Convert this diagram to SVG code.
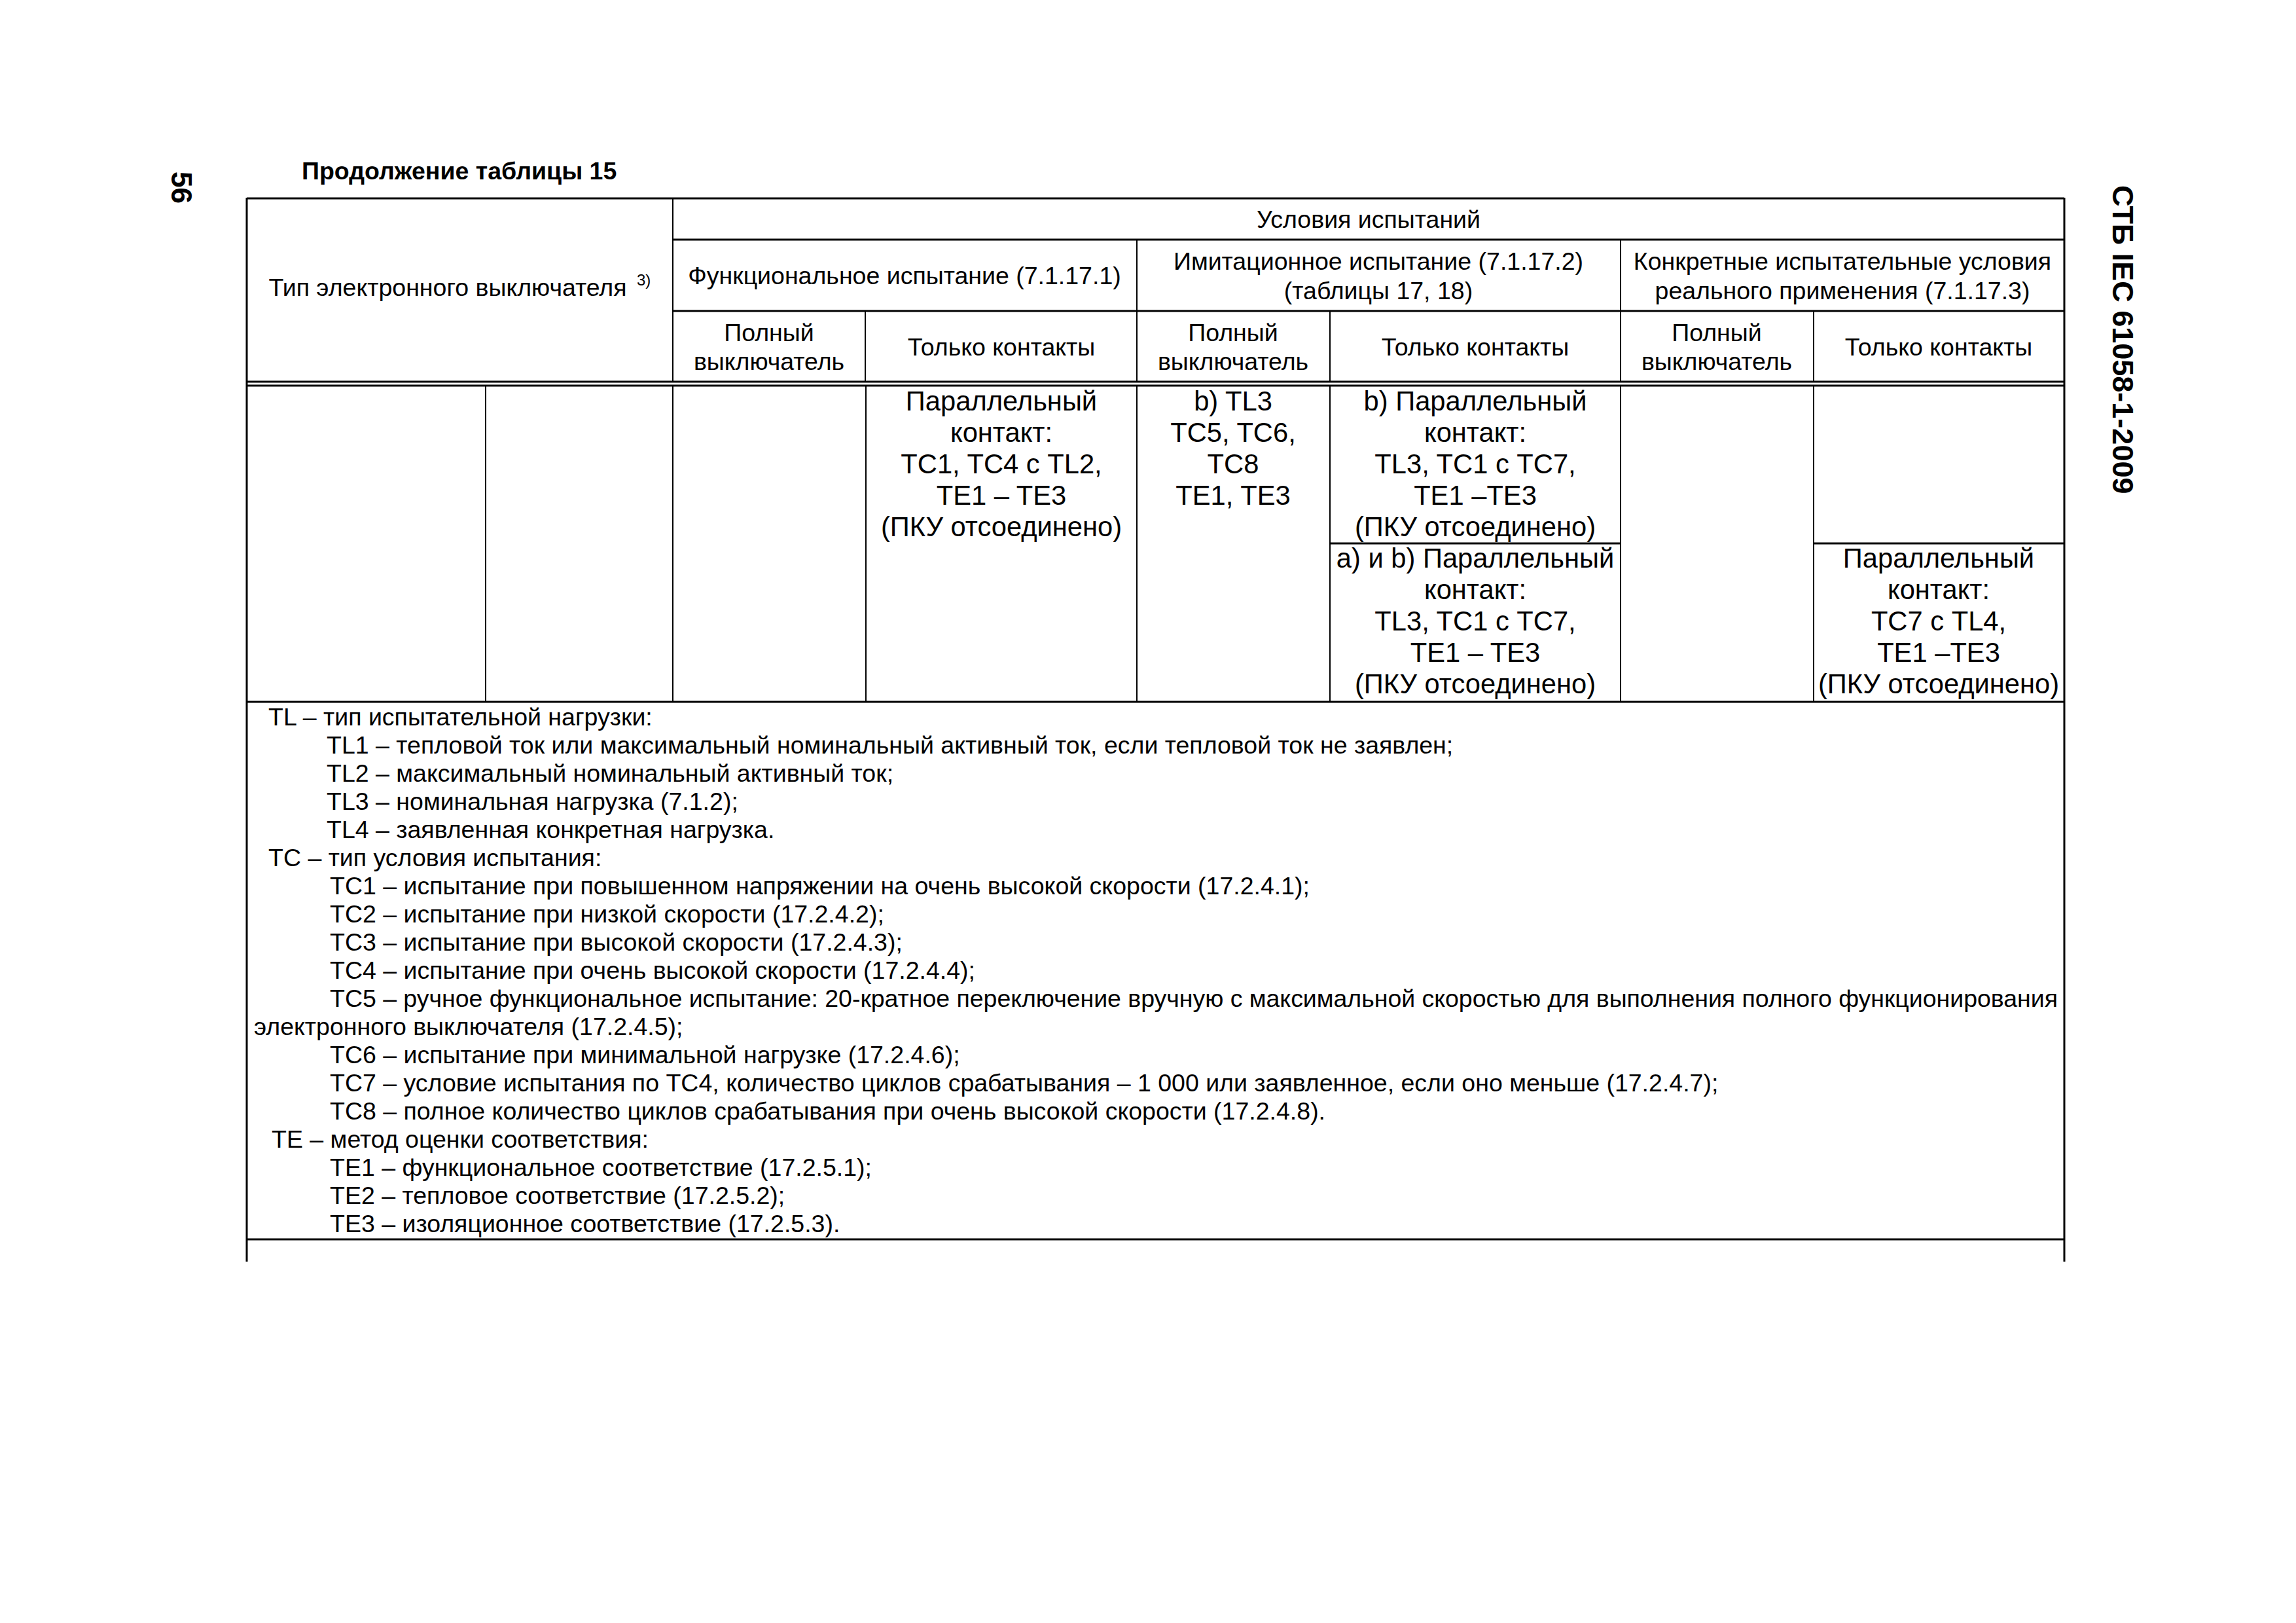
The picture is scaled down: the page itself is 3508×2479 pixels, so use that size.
<svg xmlns="http://www.w3.org/2000/svg" width="3508" height="2479" viewBox="0 0 3508 2479">
<style>
text{font-family:"Liberation Sans",Arial,sans-serif;fill:#000}
.b{font-weight:bold}
.h{font-size:37.5px;text-anchor:middle}
.c{font-size:41.7px;text-anchor:middle}
.n{font-size:37.5px}
.t{font-size:37.5px}
line{stroke:#000}
.thick{stroke-width:3}
.thin{stroke-width:2}
</style>
<rect width="3508" height="2479" fill="#fff"/>
<g id="page-marks">
<text class="b" font-size="44" transform="translate(262,262) rotate(90)">56</text>
<text class="b" font-size="45" transform="translate(3228,283) rotate(90)">СТБ IEC 61058-1-2009</text>
<text class="b t" x="461" y="274">Продолжение таблицы 15</text>
</g>
<g id="grid">
<line class="thick" x1="377" y1="303" x2="3154" y2="303"/>
<line class="thick" x1="377" y1="302" x2="377" y2="1927"/>
<line class="thick" x1="3154" y1="302" x2="3154" y2="1927"/>
<line class="thick" x1="1028" y1="366" x2="3154" y2="366"/>
<line class="thick" x1="1028" y1="475" x2="3154" y2="475"/>
<line class="thick" x1="377" y1="583" x2="3154" y2="583"/>
<line class="thick" x1="377" y1="589" x2="3154" y2="589"/>
<line class="thick" x1="377" y1="1072" x2="3154" y2="1072"/>
<line class="thick" x1="377" y1="1893" x2="3154" y2="1893"/>
<line class="thick" x1="2032" y1="830" x2="2476" y2="830"/>
<line class="thick" x1="2771" y1="830" x2="3154" y2="830"/>
<line class="thin" x1="1028" y1="303" x2="1028" y2="583"/>
<line class="thin" x1="1322" y1="475" x2="1322" y2="583"/>
<line class="thin" x1="1737" y1="366" x2="1737" y2="583"/>
<line class="thin" x1="2032" y1="475" x2="2032" y2="583"/>
<line class="thin" x1="2476" y1="366" x2="2476" y2="583"/>
<line class="thin" x1="2771" y1="475" x2="2771" y2="583"/>
<line class="thin" x1="742" y1="589" x2="742" y2="1072"/>
<line class="thin" x1="1028" y1="589" x2="1028" y2="1072"/>
<line class="thin" x1="1323" y1="589" x2="1323" y2="1072"/>
<line class="thin" x1="1737" y1="589" x2="1737" y2="1072"/>
<line class="thin" x1="2032" y1="589" x2="2032" y2="1072"/>
<line class="thin" x1="2476" y1="589" x2="2476" y2="1072"/>
<line class="thin" x1="2771" y1="589" x2="2771" y2="1072"/>
</g>
<g id="header">
<text class="h" x="684" y="452">Тип электронного выключателя</text>
<text font-size="24" x="973" y="436">3)</text>
<text class="h" x="2091" y="348">Условия испытаний</text>
<text class="h" x="1382" y="434">Функциональное испытание (7.1.17.1)</text>
<text class="h" x="2106" y="412">Имитационное испытание (7.1.17.2)</text>
<text class="h" x="2106" y="457">(таблицы 17, 18)</text>
<text class="h" x="2815" y="412">Конкретные испытательные условия</text>
<text class="h" x="2815" y="457">реального применения (7.1.17.3)</text>
<text class="h" x="1175" y="521">Полный</text>
<text class="h" x="1175" y="565">выключатель</text>
<text class="h" x="1530" y="543">Только контакты</text>
<text class="h" x="1884" y="521">Полный</text>
<text class="h" x="1884" y="565">выключатель</text>
<text class="h" x="2254" y="543">Только контакты</text>
<text class="h" x="2623" y="521">Полный</text>
<text class="h" x="2623" y="565">выключатель</text>
<text class="h" x="2962" y="543">Только контакты</text>
</g>
<g id="body">
<text class="c" x="1530" y="627">Параллельный</text>
<text class="c" x="1530" y="675">контакт:</text>
<text class="c" x="1530" y="723">TC1, TC4 с TL2,</text>
<text class="c" x="1530" y="771">TE1 – TE3</text>
<text class="c" x="1530" y="819">(ПКУ отсоединено)</text>
<text class="c" x="1884" y="627">b) TL3</text>
<text class="c" x="1884" y="675">TC5, TC6,</text>
<text class="c" x="1884" y="723">TC8</text>
<text class="c" x="1884" y="771">TE1, TE3</text>
<text class="c" x="2254" y="627">b) Параллельный</text>
<text class="c" x="2254" y="675">контакт:</text>
<text class="c" x="2254" y="723">TL3, TC1 с TC7,</text>
<text class="c" x="2254" y="771">TE1 –TE3</text>
<text class="c" x="2254" y="819">(ПКУ отсоединено)</text>
<text class="c" x="2254" y="867">а) и b) Параллельный</text>
<text class="c" x="2254" y="915">контакт:</text>
<text class="c" x="2254" y="963">TL3, TC1 с TC7,</text>
<text class="c" x="2254" y="1011">TE1 – TE3</text>
<text class="c" x="2254" y="1059">(ПКУ отсоединено)</text>
<text class="c" x="2962" y="867">Параллельный</text>
<text class="c" x="2962" y="915">контакт:</text>
<text class="c" x="2962" y="963">TC7 с TL4,</text>
<text class="c" x="2962" y="1011">TE1 –TE3</text>
<text class="c" x="2962" y="1059">(ПКУ отсоединено)</text>
</g>
<g id="notes">
<text class="n" x="410" y="1108">TL – тип испытательной нагрузки:</text>
<text class="n" x="499" y="1151">TL1 – тепловой ток или максимальный номинальный активный ток, если тепловой ток не заявлен;</text>
<text class="n" x="499" y="1194">TL2 – максимальный номинальный активный ток;</text>
<text class="n" x="499" y="1237">TL3 – номинальная нагрузка (7.1.2);</text>
<text class="n" x="499" y="1280">TL4 – заявленная конкретная нагрузка.</text>
<text class="n" x="410" y="1323">TC – тип условия испытания:</text>
<text class="n" x="504" y="1366">TC1 – испытание при повышенном напряжении на очень высокой скорости (17.2.4.1);</text>
<text class="n" x="504" y="1409">TC2 – испытание при низкой скорости (17.2.4.2);</text>
<text class="n" x="504" y="1452">TC3 – испытание при высокой скорости (17.2.4.3);</text>
<text class="n" x="504" y="1495">TC4 – испытание при очень высокой скорости (17.2.4.4);</text>
<text class="n" x="504" y="1538" textLength="2640" lengthAdjust="spacing">TC5 – ручное функциональное испытание: 20-кратное переключение вручную с максимальной скоростью для выполнения полного функционирования</text>
<text class="n" x="388" y="1581">электронного выключателя (17.2.4.5);</text>
<text class="n" x="504" y="1624">TC6 – испытание при минимальной нагрузке (17.2.4.6);</text>
<text class="n" x="504" y="1667">TC7 – условие испытания по TC4, количество циклов срабатывания – 1 000 или заявленное, если оно меньше (17.2.4.7);</text>
<text class="n" x="504" y="1710">TC8 – полное количество циклов срабатывания при очень высокой скорости (17.2.4.8).</text>
<text class="n" x="415" y="1753">TE – метод оценки соответствия:</text>
<text class="n" x="504" y="1796">TE1 – функциональное соответствие (17.2.5.1);</text>
<text class="n" x="504" y="1839">TE2 – тепловое соответствие (17.2.5.2);</text>
<text class="n" x="504" y="1882">TE3 – изоляционное соответствие (17.2.5.3).</text>
</g>
</svg>
